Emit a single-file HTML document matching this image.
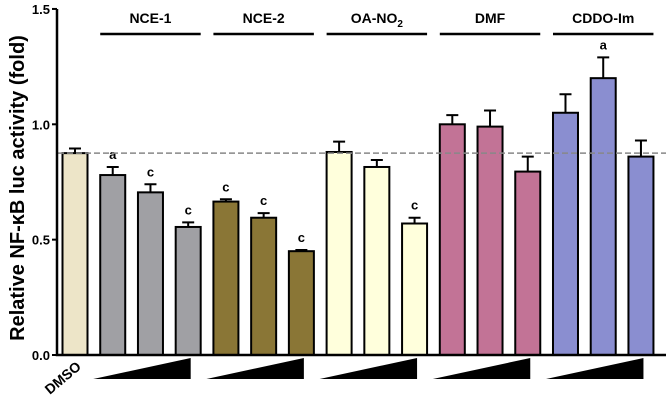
<!DOCTYPE html>
<html><head><meta charset="utf-8"><style>
body{margin:0;background:#fff}
svg text{font-family:"Liberation Sans",Arial,sans-serif;font-weight:bold}
</style></head><body>
<svg id="c" width="666" height="402"></svg>
<script>
const categories=["DMSO","NCE-1 low","NCE-1 mid","NCE-1 high","NCE-2 low","NCE-2 mid","NCE-2 high","OA-NO2 low","OA-NO2 mid","OA-NO2 high","DMF low","DMF mid","DMF high","CDDO-Im low","CDDO-Im mid","CDDO-Im high"];
const values=[0.875,0.78,0.705,0.555,0.665,0.595,0.45,0.88,0.815,0.57,1.0,0.99,0.795,1.05,1.2,0.86];
const errors=[0.02,0.035,0.035,0.02,0.01,0.02,0.005,0.045,0.03,0.025,0.04,0.07,0.065,0.08,0.09,0.07];
const sigLabels=["","a","c","c","c","c","c","","","c","","","","","a",""];
const colors=["#ede5c8","#a0a0a4","#a0a0a4","#a0a0a4","#8a7636","#8a7636","#8a7636","#ffffdc","#ffffdc","#ffffdc","#c27396","#c27396","#c27396","#8a8ed0","#8a8ed0","#8a8ed0"];
const groups=["NCE-1","NCE-2","OA-NO","DMF","CDDO-Im"];
const groupStart=[1,4,7,10,13];
const yTicks=[0,0.5,1.0,1.5];
const baseline=0.875;
const NS="http://www.w3.org/2000/svg",svg=document.getElementById('c');
const y=v=>355-v*230.7, x=i=>75+37.73*i, bw=25;
function el(t,a,txt){const e=document.createElementNS(NS,t);for(const k in a)e.setAttribute(k,a[k]);if(txt!==undefined)e.textContent=txt;svg.appendChild(e);return e;}
values.forEach((v,i)=>{
 const b=el('rect',{x:x(i)-bw/2,y:y(v),width:bw,height:y(0)-y(v),fill:colors[i],stroke:'#000','stroke-width':2});
 
 
 const e=el('path',{d:`M${x(i)} ${y(v)}V${y(v+errors[i])}M${x(i)-6} ${y(v+errors[i])}H${x(i)+6}`,stroke:'#000','stroke-width':2,fill:'none'});
 
 
 if(sigLabels[i]){const t=el('text',{x:x(i),y:y(v+errors[i])-8,'text-anchor':'middle','font-size':13},sigLabels[i]);
 
 }
});
const bl=el('line',{x1:58,x2:666,y1:y(baseline),y2:y(baseline),stroke:'#888','stroke-width':1.5,'stroke-dasharray':'6,3'});


const ax=el('path',{d:`M57 ${y(1.5)}V${y(0)}H666`,stroke:'#000','stroke-width':2.5,fill:'none'});


yTicks.forEach(t=>{
 el('line',{x1:52,x2:57,y1:y(t),y2:y(t),stroke:'#000','stroke-width':2});
 const l=el('text',{x:50,y:y(t)+5,'text-anchor':'end','font-size':13},t.toFixed(1));
 
 
});
const yt=el('text',{transform:'translate(24,188) rotate(-90)','text-anchor':'middle','font-size':20},'Relative NF-κB luc activity (fold)');


const dm=el('text',{transform:`translate(${x(0)+7},368) rotate(-40)`,'text-anchor':'end','font-size':14},'DMSO');


groups.forEach((g,k)=>{
 const s=groupStart[k],x0=x(s)-bw/2,x1=x(s+2)+bw/2,cx=(x0+x1)/2;
 el('line',{x1:x0,x2:x1,y1:34,y2:34,stroke:'#000','stroke-width':2.5});
 const t=el('text',{x:cx,y:23,'text-anchor':'middle','font-size':14},g);
 if(g==='OA-NO'){const s2=document.createElementNS(NS,'tspan');s2.setAttribute('font-size',10);s2.setAttribute('dy',4);s2.textContent='2';t.appendChild(s2);}
 
 
 const tr=el('polygon',{points:`${x0-7},379 ${x1-10},358 ${x1-10},379`,fill:'#000'});
 
 
});
</script>
</body></html>
